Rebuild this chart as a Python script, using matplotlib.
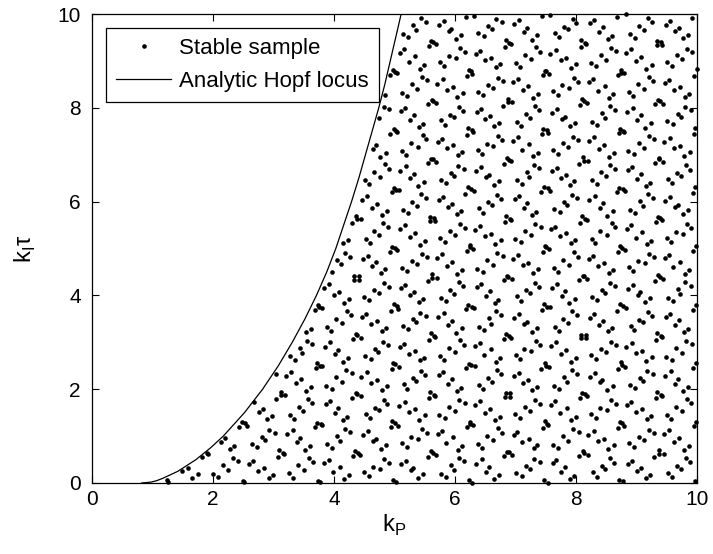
import numpy as np
import matplotlib
matplotlib.use("Agg")
import matplotlib.pyplot as plt

plt.rcParams['font.family'] = ['Liberation Sans', 'DejaVu Sans']
plt.rcParams['mathtext.fontset'] = 'custom'
plt.rcParams['mathtext.rm'] = 'Liberation Sans'

# Analytic Hopf locus (k_P, k_I*tau)
hopf_ki = [0.0, 0.02, 0.05, 0.1, 0.25, 0.5, 0.75, 1.0, 1.5, 2.0, 2.5, 3.0, 3.5,
           4.0, 4.5, 5.0, 5.5, 6.0, 6.5, 7.0, 7.5, 8.0, 8.5, 9.0, 9.5, 10.0]
hopf_kp = [0.82, 0.98, 1.07, 1.17, 1.42, 1.72, 1.96, 2.17, 2.52, 2.82, 3.08, 3.31, 3.52,
           3.71, 3.88, 4.03, 4.16, 4.29, 4.41, 4.52, 4.63, 4.74, 4.84, 4.93, 5.02, 5.11]

# Sampling box and sample size
kp_range = [0.0, 10.0]
ki_range = [0.0, 10.0]
n_samples = 2048
x_ticks = [0, 2, 4, 6, 8, 10]
y_ticks = [0, 2, 4, 6, 8, 10]


def sobol_2d(n, bits=32):
    """First n points of the two-dimensional Sobol sequence (standard order)."""
    v1 = [1 << (bits - k) for k in range(1, bits + 1)]
    m = [1]
    for _ in range(bits - 1):
        m.append((m[-1] << 1) ^ m[-1])
    v2 = [m[k - 1] << (bits - k) for k in range(1, bits + 1)]
    pts = np.zeros((n, 2))
    scale = float(1 << bits)
    for i in range(n):
        a = b = 0
        j, k = i, 0
        while j:
            if j & 1:
                a ^= v1[k]
                b ^= v2[k]
            j >>= 1
            k += 1
        pts[i] = (a / scale, b / scale)
    return pts


u = sobol_2d(n_samples)
kp = kp_range[0] + u[:, 0] * (kp_range[1] - kp_range[0])
ki = ki_range[0] + u[:, 1] * (ki_range[1] - ki_range[0])
boundary_kp = np.interp(ki, hopf_ki, hopf_kp)
stable = kp > boundary_kp

fig = plt.figure(figsize=(7.13, 5.54), dpi=100)
ax = fig.add_axes([92 / 713, 71 / 554, 605 / 713, 469 / 554])

ax.plot(kp[stable], ki[stable], 'o', ms=3.3, mfc='k', mec='k', mew=0,
        linestyle='none', label='Stable sample', clip_on=False)
ax.plot(hopf_kp, hopf_ki, '-', color='k', lw=0.9, label='Analytic Hopf locus')

ax.set_xlim(0, 10)
ax.set_ylim(0, 10)
ax.set_xticks(x_ticks)
ax.set_yticks(y_ticks)
ax.tick_params(direction='in', length=5, width=0.8, top=True, right=True,
               labelsize=15)
ax.tick_params(axis='y', pad=8)
ax.tick_params(axis='x', pad=5)
for s in ax.spines.values():
    s.set_linewidth(0.9)

ax.set_xlabel(r'k$_{\mathregular{P}}$', fontsize=17, labelpad=3)
ax.set_ylabel(r'k$_{\mathregular{I}}$τ', fontsize=17, labelpad=14)

leg = ax.legend(loc='upper left', fontsize=16, frameon=True, fancybox=False,
                edgecolor='k', framealpha=1, handlelength=2.5, handletextpad=0.35,
                borderpad=0.45, labelspacing=0.55, borderaxespad=0.62)
leg.get_frame().set_linewidth(0.9)

fig.savefig('out.png', dpi=100)
